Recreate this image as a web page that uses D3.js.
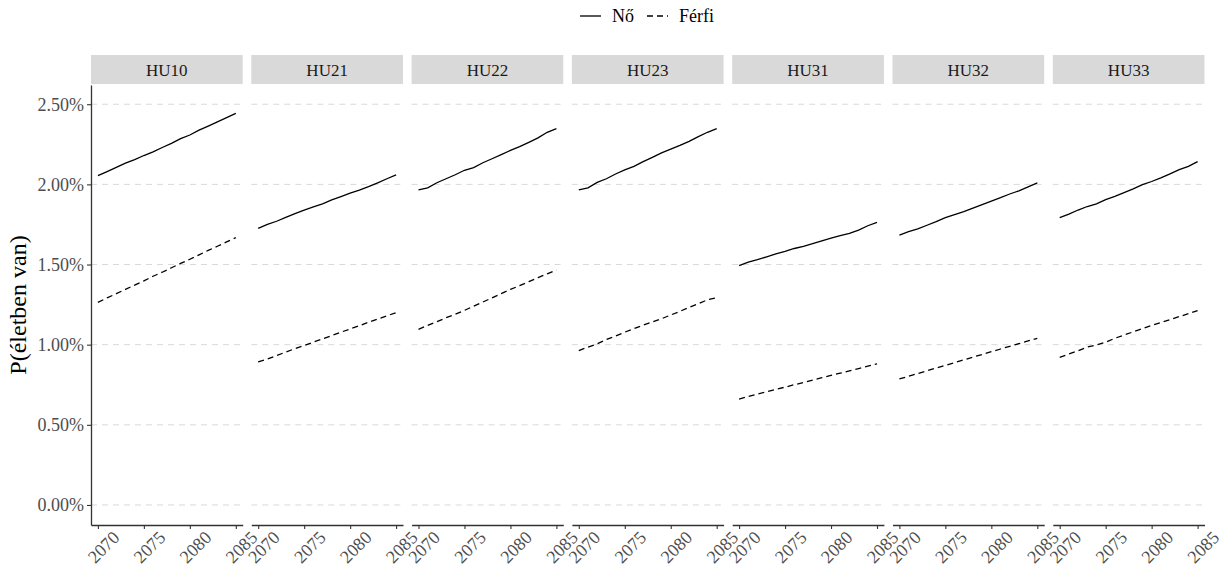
<!DOCTYPE html>
<html>
<head>
<meta charset="utf-8">
<script src="https://cdn.jsdelivr.net/npm/d3@7"></script>
<style>
  body { margin: 0; background: #fff; }
  svg text { font-family: "Liberation Serif", "Times New Roman", serif; }
</style>
</head>
<body>
<div id="okvir"></div>
<script>
// regije (paneli) i godine
const regije = ["HU10", "HU21", "HU22", "HU23", "HU31", "HU32", "HU33"]
const godine = [2070, 2071, 2072, 2073, 2074, 2075, 2076, 2077, 2078, 2079, 2080, 2081, 2082, 2083, 2084, 2085]

// P(életben van) u postocima, redom po regijama
const noVrijednosti = [
  [2.055, 2.080, 2.106, 2.132, 2.155, 2.180, 2.203, 2.230, 2.256, 2.285, 2.308, 2.338, 2.364, 2.390, 2.416, 2.443],
  [1.726, 1.750, 1.770, 1.794, 1.818, 1.840, 1.860, 1.878, 1.903, 1.924, 1.945, 1.964, 1.986, 2.010, 2.035, 2.059],
  [1.965, 1.978, 2.010, 2.035, 2.060, 2.088, 2.105, 2.135, 2.160, 2.186, 2.212, 2.235, 2.262, 2.290, 2.325, 2.348],
  [1.965, 1.978, 2.012, 2.035, 2.065, 2.090, 2.112, 2.142, 2.168, 2.196, 2.220, 2.243, 2.268, 2.298, 2.325, 2.348],
  [1.493, 1.515, 1.530, 1.548, 1.566, 1.582, 1.600, 1.613, 1.630, 1.648, 1.665, 1.680, 1.695, 1.715, 1.742, 1.763],
  [1.684, 1.705, 1.722, 1.745, 1.768, 1.793, 1.812, 1.830, 1.852, 1.874, 1.896, 1.917, 1.940, 1.960, 1.984, 2.009],
  [1.792, 1.815, 1.840, 1.862, 1.878, 1.905, 1.925, 1.948, 1.972, 1.998, 2.018, 2.040, 2.065, 2.092, 2.112, 2.142],
]
const ferfiVrijednosti = [
  [1.264, 1.292, 1.318, 1.345, 1.372, 1.398, 1.427, 1.452, 1.480, 1.507, 1.533, 1.560, 1.588, 1.614, 1.641, 1.668],
  [0.892, 0.910, 0.932, 0.954, 0.975, 0.995, 1.016, 1.036, 1.057, 1.078, 1.098, 1.118, 1.140, 1.160, 1.180, 1.200],
  [1.096, 1.120, 1.143, 1.168, 1.190, 1.214, 1.240, 1.266, 1.292, 1.318, 1.345, 1.368, 1.393, 1.418, 1.442, 1.466],
  [0.963, 0.985, 1.005, 1.032, 1.054, 1.078, 1.100, 1.122, 1.142, 1.162, 1.185, 1.208, 1.233, 1.256, 1.280, 1.293],
  [0.661, 0.677, 0.692, 0.706, 0.721, 0.735, 0.750, 0.764, 0.779, 0.794, 0.808, 0.822, 0.837, 0.851, 0.866, 0.880],
  [0.786, 0.803, 0.820, 0.837, 0.854, 0.871, 0.888, 0.905, 0.922, 0.939, 0.956, 0.973, 0.990, 1.006, 1.023, 1.040],
  [0.921, 0.942, 0.962, 0.985, 0.998, 1.015, 1.040, 1.060, 1.080, 1.100, 1.120, 1.138, 1.156, 1.175, 1.193, 1.212],
]

const xOznake = [2070, 2075, 2080, 2085]
const yOznake = [0, 0.5, 1, 1.5, 2, 2.5]
const legenda = [
  { naziv: "Nő", crtkano: null },
  { naziv: "Férfi", crtkano: "6,4" },
]

// dimenzije
const dim = {
  sirina: 1222,
  visina: 568,
  lijevo: 91,
  vrh: 85,
  dno: 525,
  trakaVrh: 55,
  trakaDno: 84,
  sirinaPanela: 151.7,
  razmak: 8.6,
}

const svg = d3.select("#okvir")
  .append("svg")
    .attr("width", dim.sirina)
    .attr("height", dim.visina)

const xSkala = d3.scaleLinear()
  .domain([2070 - 0.75, 2085 + 0.75])
  .range([0, dim.sirinaPanela])

const ySkala = d3.scaleLinear()
  .domain([-0.125, 2.62])
  .range([dim.dno, dim.vrh])

const linija = d3.line()
  .x(d => xSkala(d[0]))
  .y(d => ySkala(d[1]))

regije.forEach((regija, i) => {
  const x0 = dim.lijevo + i * (dim.sirinaPanela + dim.razmak)
  const panel = svg.append("g")
    .attr("transform", `translate(${x0}, 0)`)

  // mreza
  panel.selectAll(".mreza")
    .data(yOznake)
    .enter().append("line")
      .attr("x1", 0)
      .attr("x2", dim.sirinaPanela)
      .attr("y1", d => ySkala(d))
      .attr("y2", d => ySkala(d))
      .attr("stroke", "#d9d9d9")
      .attr("stroke-width", 1)
      .attr("stroke-dasharray", "6,5")

  // traka s nazivom
  panel.append("rect")
    .attr("x", 0)
    .attr("y", dim.trakaVrh)
    .attr("width", dim.sirinaPanela)
    .attr("height", dim.trakaDno - dim.trakaVrh)
    .attr("fill", "#d9d9d9")
  panel.append("text")
    .attr("x", dim.sirinaPanela / 2)
    .attr("y", (dim.trakaVrh + dim.trakaDno) / 2 + 0.5)
    .attr("dy", "0.35em")
    .attr("text-anchor", "middle")
    .attr("font-size", 17)
    .attr("fill", "#1a1a1a")
    .text(regija)

  // linije
  const nizovi = [noVrijednosti[i], ferfiVrijednosti[i]]
  nizovi.forEach((vrijednosti, j) => {
    panel.append("path")
      .datum(godine.map((g, k) => [g, vrijednosti[k]]))
      .attr("d", linija)
      .attr("fill", "none")
      .attr("stroke", "#000")
      .attr("stroke-width", 1.3)
      .attr("stroke-dasharray", legenda[j].crtkano)
  })

  // x os
  const xOs = panel.append("g")
    .attr("transform", `translate(0, ${dim.dno})`)
    .call(d3.axisBottom(xSkala).tickValues(xOznake).tickFormat(d3.format("d")).tickSize(4).tickSizeOuter(0))
  xOs.select(".domain").attr("stroke", "#333").attr("stroke-width", 1.3)
  xOs.selectAll(".tick line").attr("stroke", "#333").attr("stroke-width", 1.1)
  xOs.selectAll(".tick text")
    .attr("font-size", 18)
    .attr("fill", "#4d4d4d")
    .attr("text-anchor", "middle")
    .attr("y", 0)
    .attr("dy", "0.35em")
    .attr("transform", "translate(5, 22) rotate(-45)")

  // y os samo na prvom panelu
  if (i === 0) {
    const yOs = panel.append("g")
      .call(d3.axisLeft(ySkala).tickValues(yOznake).tickFormat(d => d3.format(".2f")(d) + "%").tickSize(4).tickSizeOuter(0))
    yOs.select(".domain").attr("stroke", "#333").attr("stroke-width", 1.3)
    yOs.selectAll(".tick line").attr("stroke", "#333").attr("stroke-width", 1.1)
    yOs.selectAll(".tick text")
      .attr("font-size", 18)
      .attr("fill", "#4d4d4d")
      .attr("x", -7)
  }
})

// naslov y osi
svg.append("text")
  .attr("transform", `translate(26, ${(dim.vrh + dim.dno) / 2}) rotate(-90)`)
  .attr("text-anchor", "middle")
  .attr("font-size", 24)
  .attr("fill", "#000")
  .text("P(életben van)")

// legenda
const leg = svg.append("g")
  .attr("transform", "translate(580, 16)")
const stavke = leg.selectAll(".stavka")
  .data(legenda)
  .enter().append("g")
    .attr("class", "stavka")
    .attr("transform", (d, i) => `translate(${i * 67}, 0)`)
stavke.append("line")
  .attr("x1", 0)
  .attr("x2", 21)
  .attr("stroke", "#000")
  .attr("stroke-width", 1.3)
  .attr("stroke-dasharray", d => d.crtkano)
stavke.append("text")
  .attr("x", 32)
  .attr("dy", "0.35em")
  .attr("font-size", 18)
  .attr("fill", "#000")
  .text(d => d.naziv)
</script>
</body>
</html>
